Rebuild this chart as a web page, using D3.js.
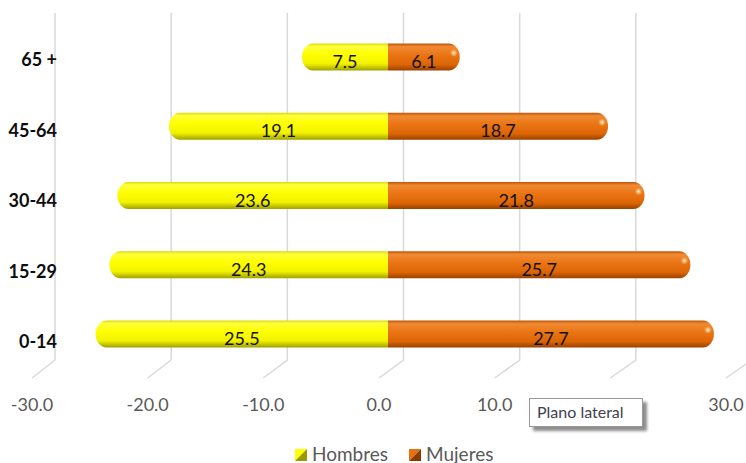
<!DOCTYPE html>
<html>
<head>
<meta charset="utf-8">
<script src="https://cdnjs.cloudflare.com/ajax/libs/d3/7.8.5/d3.min.js"></script>
<style>
  html, body { margin: 0; padding: 0; background: #fff; }
  svg { display: block; font-family: Lato, "Open Sans", sans-serif; }
</style>
</head>
<body>
<div id="chart"></div>
<script>
// chart data
var categories = ["65 +", "45-64", "30-44", "15-29", "0-14"];
var hombres = [7.5, 19.1, 23.6, 24.3, 25.5];
var mujeres = [6.1, 18.7, 21.8, 25.7, 27.7];
var xTicks = [-30, -20, -10, 0, 10, 20, 30];
var seriesNames = ["Hombres", "Mujeres"];

var W = 746, H = 463;
var svg = d3.select("#chart").append("svg").attr("width", W).attr("height", H);
var defs = svg.append("defs");
var fmt = d3.formatLocale({decimal: ".", thousands: ",", grouping: [3], currency: ["", ""], minus: "-"}).format(".1f");

// back wall, bar plane and front floor edge (3d look)
var xBack = d3.scaleLinear().domain([-30, 30]).range([55, 752]);
var xBar = d3.scaleLinear().domain([-30, 0, 30]).range([44, 388, 741]);
var xFront = d3.scaleLinear().domain([-30, 30]).range([32, 726]);
var y = d3.scalePoint().domain(categories).range([57, 334]);
var yLab = d3.scalePoint().domain(categories).range([60, 342]);
var barH = 27, capR = 11;
var floorBack = 360, floorFront = 378;

function grad(id, stops) {
    var g = defs.append("linearGradient").attr("id", id)
        .attr("x1", 0).attr("y1", 0).attr("x2", 0).attr("y2", 1);
    stops.forEach(function (s) {
        g.append("stop").attr("offset", s[0]).attr("stop-color", s[1]);
    });
}
grad("gYel", [["0%", "#d8d800"], ["10%", "#ffff40"], ["40%", "#ffff00"], ["75%", "#f2f200"], ["100%", "#a0a000"]]);
grad("gOra", [["0%", "#c05404"], ["12%", "#f08a34"], ["45%", "#ea7312"], ["78%", "#dc6506"], ["100%", "#9a4200"]]);
var rg = defs.append("radialGradient").attr("id", "gShine");
rg.append("stop").attr("offset", "0%").attr("stop-color", "#fffbe0").attr("stop-opacity", 0.95);
rg.append("stop").attr("offset", "100%").attr("stop-color", "#ffd080").attr("stop-opacity", 0);
var sh = defs.append("filter").attr("id", "blur").attr("x", "-20%").attr("y", "-20%").attr("width", "150%").attr("height", "150%");
sh.append("feGaussianBlur").attr("stdDeviation", 1.5);

// gridlines: vertical on back wall, diagonal on floor
var grid = svg.append("g");
xTicks.forEach(function (t) {
    grid.append("path")
        .attr("d", "M" + xBack(t) + ",13 L" + xBack(t) + "," + floorBack + " L" + xFront(t) + "," + floorFront)
        .attr("fill", "none").attr("stroke", "#d9d9d9").attr("stroke-width", 1.5);
});

// x axis labels
svg.append("g").selectAll("text").data(xTicks).join("text")
    .attr("x", function (d) { return xFront(d); })
    .attr("y", 411)
    .attr("text-anchor", "middle")
    .attr("font-size", 18).attr("fill", "#595959")
    .text(function (d) { return fmt(d); });

// category labels
svg.append("g").selectAll("text").data(categories).join("text")
    .attr("x", 57).attr("y", function (d) { return yLab(d) + 6; })
    .attr("text-anchor", "end")
    .attr("font-size", 18).attr("font-weight", "bold").attr("fill", "#0d0d0d")
    .text(function (d) { return d; });

// half bar with one rounded end
function halfBar(x0, x1, yc) {
    var dir = x1 > x0 ? 1 : -1;
    var r = Math.min(capR, Math.abs(x1 - x0));
    var xa = x1 - dir * r;
    return "M" + x0 + "," + (yc - barH / 2) + " L" + xa + "," + (yc - barH / 2) +
        " A" + r + "," + (barH / 2) + " 0 0 " + (dir > 0 ? 1 : 0) + " " + xa + "," + (yc + barH / 2) +
        " L" + x0 + "," + (yc + barH / 2) + " Z";
}

var bars = svg.append("g");
categories.forEach(function (c, i) {
    var yc = y(c);
    bars.append("path").attr("d", halfBar(xBar(0), xBar(-hombres[i]), yc)).attr("fill", "url(#gYel)");
    bars.append("path").attr("d", halfBar(xBar(0), xBar(mujeres[i]), yc)).attr("fill", "url(#gOra)");
    bars.append("ellipse")
        .attr("cx", xBar(mujeres[i]) - 6).attr("cy", yc - 4)
        .attr("rx", 4).attr("ry", 4).attr("fill", "url(#gShine)");
    bars.append("text")
        .attr("x", (xBar(0) + xBar(-hombres[i])) / 2).attr("y", yc + 11)
        .attr("text-anchor", "middle").attr("font-size", 18).attr("fill", "#111")
        .text(fmt(hombres[i]));
    bars.append("text")
        .attr("x", (xBar(0) + xBar(mujeres[i])) / 2).attr("y", yc + 11)
        .attr("text-anchor", "middle").attr("font-size", 18).attr("fill", "#111")
        .text(fmt(mujeres[i]));
});

// legend
var legend = svg.append("g");
var legX = [295, 409], legCol = [["#ffff00", "#9a9a00"], ["#e8700e", "#8a3c00"]];
seriesNames.forEach(function (n, i) {
    var lx = legX[i];
    legend.append("path").attr("d", "M" + lx + ",449 h12 L" + lx + ",461 Z").attr("fill", legCol[i][0]);
    legend.append("path").attr("d", "M" + (lx + 12) + ",449 v12 h-12 Z").attr("fill", legCol[i][1]);
    legend.append("text").attr("x", lx + 17).attr("y", 461)
        .attr("font-size", 19).attr("fill", "#595959").text(n);
});

// tooltip left in the screenshot
var tip = svg.append("g");
tip.append("rect").attr("x", 533).attr("y", 402).attr("width", 114).attr("height", 29)
    .attr("fill", "#8c8c8c").attr("filter", "url(#blur)");
tip.append("rect").attr("x", 529.5).attr("y", 398.5).attr("width", 113).attr("height", 28)
    .attr("fill", "#fff").attr("stroke", "#9a9a9a").attr("stroke-width", 1);
tip.append("text").attr("x", 537).attr("y", 418).attr("font-size", 16).attr("fill", "#404050")
    .text("Plano lateral");
</script>
</body>
</html>
